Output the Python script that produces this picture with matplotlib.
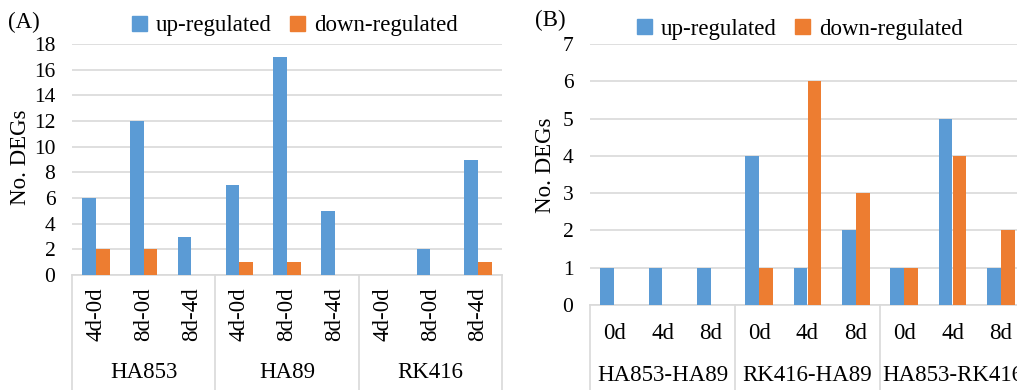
import matplotlib.pyplot as plt
import matplotlib.transforms as mtransforms
from matplotlib.patches import Patch
import numpy as np

plt.rcParams['font.family'] = ['Liberation Serif', 'DejaVu Serif']

BLUE = "#5B9BD5"
ORANGE = "#ED7D31"
GRID = "#D9D9D9"

# panel A
groups_a = ["HA853", "HA89", "RK416"]
cats_a = ["4d-0d", "8d-0d", "8d-4d"]
up_a = [6, 12, 3, 7, 17, 5, 0, 2, 9]
down_a = [2, 2, 0, 1, 1, 0, 0, 0, 1]

# panel B
groups_b = ["HA853-HA89", "RK416-HA89", "HA853-RK416"]
cats_b = ["0d", "4d", "8d"]
up_b = [1, 1, 1, 4, 1, 2, 1, 5, 1]
down_b = [0, 0, 0, 1, 6, 3, 1, 4, 2]

W, H = 1017, 390
FS = 16.5


def px_axes(fig, left, top, right, bottom):
    return fig.add_axes([left / W, 1 - bottom / H, (right - left) / W, (bottom - top) / H])


def panel(ax, groups, cats, up, down, ymax, ystep, rot, cat_y, cat_va, grp_y, lab_xy):
    n = len(up)
    x = np.arange(n)
    bw = 0.285
    ax.bar(x - bw / 2, up, bw, color=BLUE, linewidth=0, zorder=3)
    ax.bar(x + bw / 2, down, bw, color=ORANGE, linewidth=0, zorder=3)
    ax.set_xlim(-0.5, n - 0.5)
    ax.set_ylim(0, ymax)
    ax.set_yticks(np.arange(0, ymax + 0.1, ystep))
    ax.yaxis.grid(True, color=GRID, linewidth=1.2, zorder=0)
    ax.set_axisbelow(True)
    for s in ["top", "right", "left"]:
        ax.spines[s].set_visible(False)
    ax.spines["bottom"].set_color(GRID)
    ax.spines["bottom"].set_linewidth(1.2)
    ax.tick_params(axis="y", length=0, pad=12, labelsize=15.5)
    ax.set_xticks([])
    ax.set_ylabel("No. DEGs", fontsize=FS)
    ax.yaxis.set_label_coords(*lab_xy)

    trans = mtransforms.blended_transform_factory(ax.transData, ax.transAxes)
    k = len(cats)
    for i in range(n):
        ax.text(x[i], cat_y, cats[i % k], rotation=rot, transform=trans,
                ha="center", va=cat_va, fontsize=FS)
    for g, name in enumerate(groups):
        ax.text(g * k + (k - 1) / 2, grp_y, name, transform=trans,
                ha="center", va="center", fontsize=FS)
    for b in range(len(groups) + 1):
        ax.plot([b * k - 0.5] * 2, [0, -1], transform=trans, color=GRID,
                linewidth=1.2, clip_on=False)


fig = plt.figure(figsize=(W / 100, H / 100), dpi=100)

ax1 = px_axes(fig, 72, 44, 502, 275)
panel(ax1, groups_a, cats_a, up_a, down_a, 18, 2, 90, -0.052, "top", -0.42, (-0.095, 0.51))

ax2 = px_axes(fig, 590, 44, 1025, 305)
panel(ax2, groups_b, cats_b, up_b, down_b, 7, 1, 0, -0.11, "center", -0.27, (-0.078, 0.536))

handles = [Patch(color=BLUE, label="up-regulated"), Patch(color=ORANGE, label="down-regulated")]
for lx, ly in [(295 / W, 1 - 26 / H), (800 / W, 1 - 29 / H)]:
    fig.legend(handles=handles, loc="center", bbox_to_anchor=(lx, ly), ncol=2,
               frameon=False, fontsize=FS, handlelength=0.65, handleheight=0.65,
               handletextpad=0.4, columnspacing=0.8, borderaxespad=0)

fig.text(8 / W, 1 - 22 / H, "(A)", fontsize=FS, ha="left", va="center")
fig.text(535 / W, 1 - 20 / H, "(B)", fontsize=FS, ha="left", va="center")

fig.savefig("out.png", dpi=100)
